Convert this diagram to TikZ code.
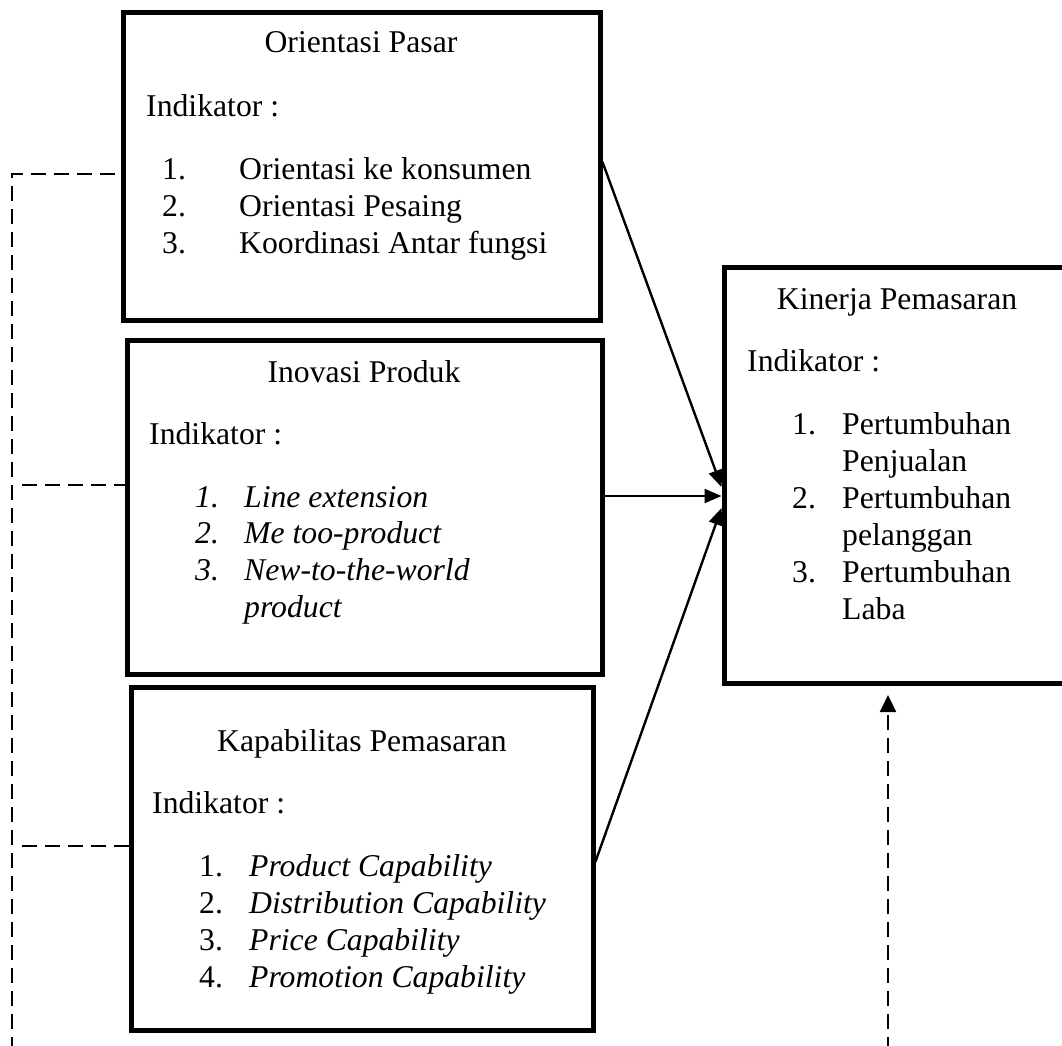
\documentclass[tikz,border=0pt]{standalone}
\usepackage{fontspec}
\setmainfont{Liberation Serif}
\usetikzlibrary{arrows.meta,calc}
\begin{document}
\begin{tikzpicture}[x=1pt,y=-1pt,
  box/.style={draw,line width=5pt,rectangle,inner sep=0pt},
  txt/.style={inner sep=0pt,anchor=base west,font=\fontsize{31.7}{36.7}\selectfont},
  ttl/.style={inner sep=0pt,anchor=base,font=\fontsize{31.7}{36.7}\selectfont},
  arr/.style={line width=2.4pt,-{Triangle[length=17pt,width=14pt]}},
  dashline/.style={line width=2.2pt,dash pattern=on 15pt off 8pt},
]
\useasboundingbox (0,0) rectangle (1062,1045);
\clip (0,0) rectangle (1062,1045);

% boxes
\node[box,minimum width=477pt,minimum height=308pt] (op) at (361.5,166) {};
\node[box,minimum width=475pt,minimum height=334pt] (ip) at (364.5,507) {};
\node[box,minimum width=462pt,minimum height=343pt] (kc) at (362,858.5) {};
\node[box,minimum width=366pt,minimum height=416pt] (kp) at (907,475) {};

% box 1 text
\node[ttl] (op-t) at (361,52) {Orientasi Pasar};
\node[txt] (op-i) at (146,116) {Indikator :};
\node[txt] (op-n1) at (162,179) {1.};
\node[txt] (op-a1) at (239,179) {Orientasi ke konsumen};
\node[txt] (op-n2) at (162,216) {2.};
\node[txt] (op-a2) at (239,216) {Orientasi Pesaing};
\node[txt] (op-n3) at (162,253) {3.};
\node[txt] (op-a3) at (239,253) {Koordinasi Antar fungsi};

% box 2 text
\node[ttl] (ip-t) at (364,382) {Inovasi Produk};
\node[txt] (ip-i) at (149,444) {Indikator :};
\node[txt] (ip-n1) at (195,507) {\itshape 1.};
\node[txt] (ip-a1) at (244,507) {\itshape Line extension};
\node[txt] (ip-n2) at (195,543) {\itshape 2.};
\node[txt] (ip-a2) at (244,543) {\itshape Me too-product};
\node[txt] (ip-n3) at (195,580) {\itshape 3.};
\node[txt] (ip-a3) at (244,580) {\itshape New-to-the-world};
\node[txt] (ip-a4) at (244,617) {\itshape product};

% box 3 text
\node[ttl] (kc-t) at (362,751) {Kapabilitas Pemasaran};
\node[txt] (kc-i) at (152,813) {Indikator :};
\node[txt] (kc-n1) at (199,876) {1.};
\node[txt] (kc-a1) at (249,876) {\itshape Product Capability};
\node[txt] (kc-n2) at (199,913) {2.};
\node[txt] (kc-a2) at (249,913) {\itshape Distribution Capability};
\node[txt] (kc-n3) at (199,950) {3.};
\node[txt] (kc-a3) at (249,950) {\itshape Price Capability};
\node[txt] (kc-n4) at (199,987) {4.};
\node[txt] (kc-a4) at (249,987) {\itshape Promotion Capability};

% box 4 text
\node[ttl] (kp-t) at (897,309) {Kinerja Pemasaran};
\node[txt] (kp-i) at (747,371) {Indikator :};
\node[txt] (kp-n1) at (792,434) {1.};
\node[txt] (kp-a1) at (842,434) {Pertumbuhan};
\node[txt] (kp-b1) at (842,471) {Penjualan};
\node[txt] (kp-n2) at (792,508) {2.};
\node[txt] (kp-a2) at (842,508) {Pertumbuhan};
\node[txt] (kp-b2) at (842,545) {pelanggan};
\node[txt] (kp-n3) at (792,582) {3.};
\node[txt] (kp-a3) at (842,582) {Pertumbuhan};
\node[txt] (kp-b3) at (842,619) {Laba};

% solid arrows
\coordinate (t1) at ($(kp.west)+(0,12)$);
\coordinate (t2) at ($(kp.west)+(0,21)$);
\coordinate (t3) at ($(kp.west)+(0,33)$);
\draw[arr] ($(op.east)+(0,-4)$) -- (t1);
\draw[arr] (t2 -| ip.east) -- (t2);
\draw[arr] ($(kc.east)+(0,3)$) -- (t3);

% dashed lines
\coordinate (lc) at (12,174);
\coordinate (lb) at (12,1052);
\draw[dashline] (lb) -- (lc) -- (lc -| op.west);
\coordinate (b2) at (22,485);
\draw[dashline] (b2) -- (b2 -| ip.west);
\coordinate (b3) at (22,846);
\draw[dashline] (b3) -- (b3 -| kc.west);
\coordinate (rb) at (888,1052);
\coordinate (rt) at (888,695);
\draw[dashline,-{Triangle[length=17pt,width=16pt]}] (rb) -- (rt);
\end{tikzpicture}
\end{document}
